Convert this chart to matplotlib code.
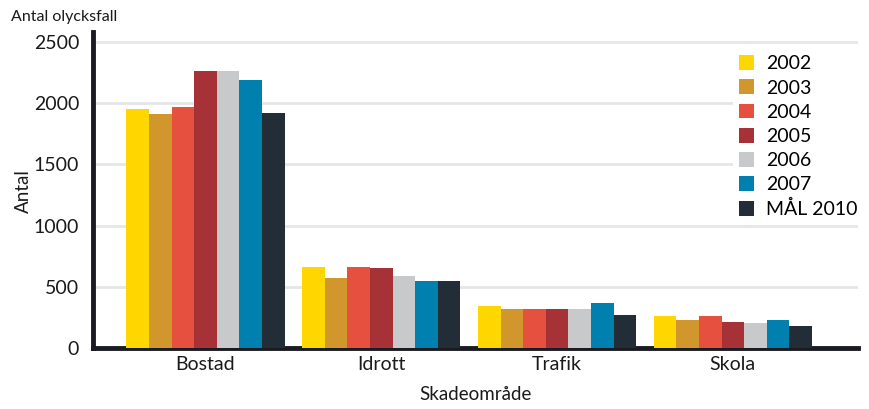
import matplotlib.pyplot as plt
import numpy as np

plt.rcParams['font.family'] = ['Lato', 'DejaVu Sans']

categories = ['Bostad', 'Idrott', 'Trafik', 'Skola']
series_names = ['2002', '2003', '2004', '2005', '2006', '2007', 'MÅL 2010']
values = {
    '2002': [1950, 665, 345, 265],
    '2003': [1910, 575, 320, 230],
    '2004': [1965, 665, 320, 265],
    '2005': [2265, 650, 320, 215],
    '2006': [2265, 590, 320, 205],
    '2007': [2190, 550, 370, 225],
    'MÅL 2010': [1920, 550, 270, 180],
}
colors = ['#FFD700', '#D1972C', '#E5503F', '#A63237', '#C8C9CB', '#0080AE', '#232D37']

fig = plt.figure(figsize=(8.69, 4.09), dpi=100)
ax = fig.add_axes([0.107, 0.149, 0.88, 0.773])

x = np.arange(len(categories))
n = len(series_names)
width = 0.9 / n
for i, (name, c) in enumerate(zip(series_names, colors)):
    ax.bar(x + (i - (n - 1) / 2) * width, values[name], width, color=c,
           label=name, zorder=3)

ax.set_xlim(-0.64, 3.71)
ax.set_ylim(0, 2580)
ax.set_yticks([0, 500, 1000, 1500, 2000, 2500])
ax.set_xticks(x)
ax.set_xticklabels(categories)
ax.tick_params(axis='both', length=0, labelsize=14, colors='#1a1a1a')
ax.tick_params(axis='y', pad=10)
ax.tick_params(axis='x', pad=6)

ax.yaxis.grid(True, color='#e6e6e6', linewidth=2, zorder=0)
ax.set_axisbelow(True)
for s in ['top', 'right']:
    ax.spines[s].set_visible(False)
for s in ['left', 'bottom']:
    ax.spines[s].set_color('#1a1a22')
    ax.spines[s].set_linewidth(3.5)

ax.set_xlabel('Skadeområde', fontsize=13.5, color='#1a1a1a', labelpad=9)
fig.text(0.027, 0.533, 'Antal', rotation=90, fontsize=13.5, color='#1a1a1a',
         ha='center', va='center')
fig.text(0.013, 0.958, 'Antal olycksfall', fontsize=11.5, color='#1a1a1a',
         ha='left', va='center')

leg = ax.legend(loc='upper right', bbox_to_anchor=(1.007, 0.945), frameon=True,
                facecolor='white', edgecolor='none', framealpha=1,
                fontsize=14, handlelength=0.8, handleheight=0.8,
                handletextpad=0.6, labelspacing=0.36, borderpad=0.3,
                borderaxespad=0)
leg.get_frame().set_linewidth(0)

fig.savefig('out.png', dpi=100, facecolor='white')
